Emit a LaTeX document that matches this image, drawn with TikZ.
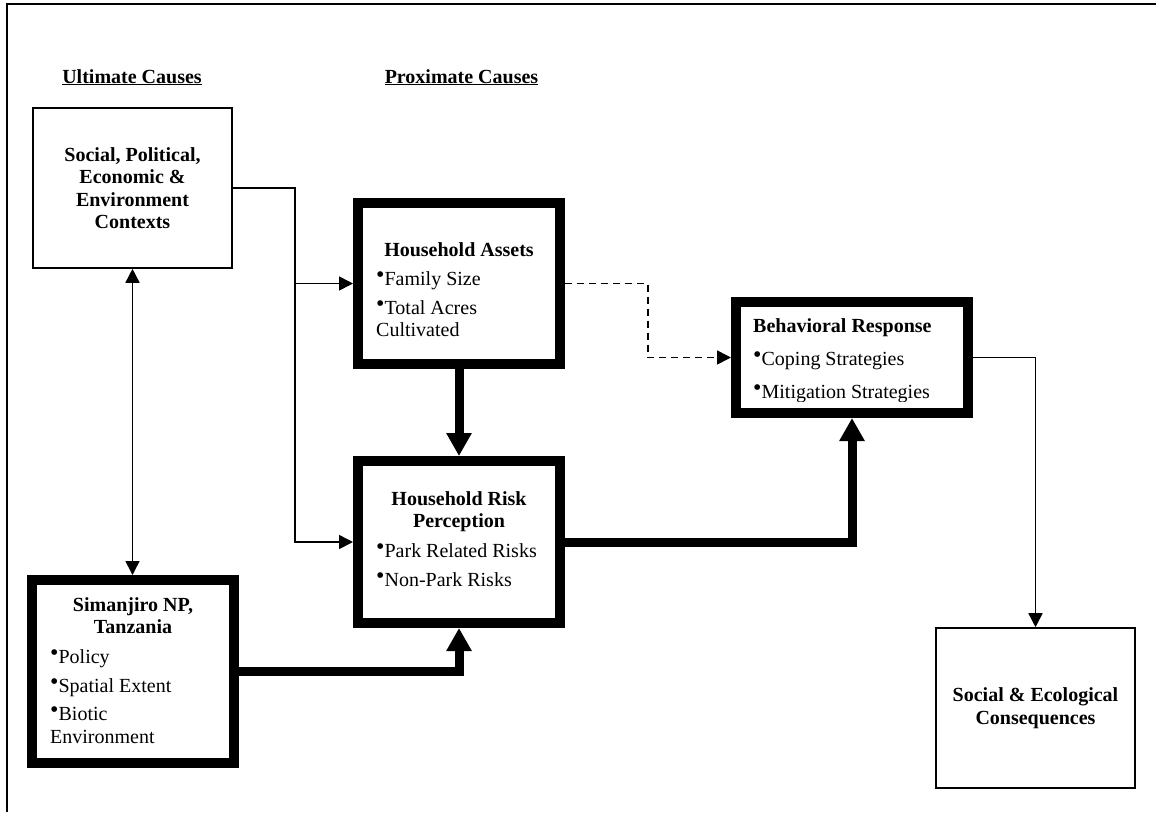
\documentclass[tikz,border=0pt]{standalone}
\usepackage{fontspec}
\setmainfont{Liberation Serif}
\usetikzlibrary{arrows.meta}
\tikzset{
  thinbox/.style={draw, line width=1.6pt, inner sep=0pt, align=center,
    font=\bfseries\fontsize{20}{22.5}\selectfont},
  heavybox/.style={draw, line width=10pt, inner sep=0pt},
  head/.style={inner sep=0pt, align=center, font=\bfseries\fontsize{20}{22.5}\selectfont},
  items/.style={inner sep=0pt, align=left, anchor=north west, font=\fontsize{20}{22.5}\selectfont},
  conn/.style={line width=1.6pt, -{Triangle[length=14pt,width=14pt]}},
  heavy/.style={line width=9pt, -{Triangle[length=23pt,width=24pt]}},
}
\newcommand{\bul}{\raisebox{3pt}{\fontsize{24}{24}\selectfont\textbullet}}
\newcommand{\topline}{\rule{0pt}{14pt}}
\begin{document}
\begin{tikzpicture}[x=1pt,y=-1pt]
\useasboundingbox (0,0) rectangle (1156,812);
% frame
\draw [line width=2.5pt] (7,812) -- (7,4) -- (1156,4);
% column titles
\node [head, anchor=base] (ultimate) at (132,83) {\underline{Ultimate Causes}};
\node [head, anchor=base] (proximate) at (461.5,83) {\underline{Proximate Causes}};
% boxes
\node [thinbox, minimum width=199, minimum height=160] (social) at (132.5,188)
  {Social, Political,\\Economic \&\\Environment\\Contexts};
\node [heavybox, minimum width=202, minimum height=161] (assets) at (459,283.5) {};
\node [heavybox, minimum width=202, minimum height=162] (risk) at (459,542) {};
\node [heavybox, minimum width=202, minimum height=183] (park) at (133,671.5) {};
\node [heavybox, minimum width=232, minimum height=111] (behav) at (852,357.5) {};
\node [thinbox, minimum width=199, minimum height=160] (conseq) at (1035.5,708)
  {Social \& Ecological\\Consequences};
% texts in the heavy boxes
\node [head, anchor=base] (assets-h) at (459,256) {Household Assets};
\node [items] (assets-l) at (376,271) {\topline\bul Family Size\\[6.5pt]\bul Total Acres\\Cultivated};
\node [head, anchor=north] (risk-h) at (459,491) {\topline Household Risk\\Perception};
\node [items] (risk-l) at (376,543) {\topline\bul Park Related Risks\\[6.5pt]\bul Non-Park Risks};
\node [head, anchor=north] (park-h) at (133,597) {\topline Simanjiro NP,\\Tanzania};
\node [items] (park-l) at (50,649) {\topline\bul Policy\\[6.5pt]\bul Spatial Extent\\[6pt]\bul Biotic\\Environment};
\node [head, anchor=base west] (behav-h) at (753,332) {Behavioral Response};
\begin{scope}
\clip (740,340) rectangle (960,401);
\node [items] (behav-l) at (753,351) {\topline\bul Coping Strategies\\[10.5pt]\bul Mitigation Strategies};
\end{scope}
% connectors
\coordinate (trunk) at (295,542);
\draw [conn] (social.east) -| (trunk) -- (risk.west);
\draw [conn] (trunk |- assets.west) -- (assets.west);
\draw [line width=1.6pt, {Triangle[length=14pt,width=14pt]}-{Triangle[length=14pt,width=14pt]}]
  (social.south) -- (social.south |- park.north);
\draw [heavy] (assets.south) -- (risk.north);
\draw [heavy] (park.east) -| (risk.south);
\draw [heavy] (risk.east) -| (behav.south);
\draw [conn, dash pattern=on 7pt off 5pt] (assets.east) -- (648,283.5) |- (behav.west);
\draw [conn] (behav.east) -| (conseq.north);
\end{tikzpicture}
\end{document}
